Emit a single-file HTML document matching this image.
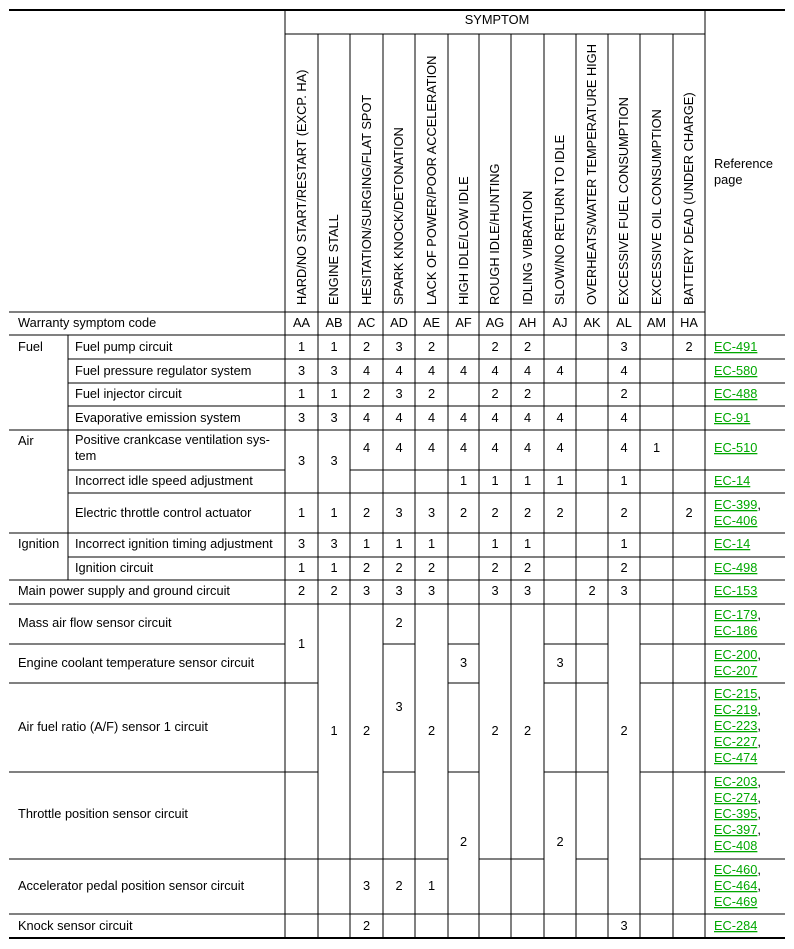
<!DOCTYPE html>
<html><head><meta charset="utf-8"><style>
html,body{margin:0;padding:0;background:#fff;}
svg{display:block;}
text{font-family:"Liberation Sans",Arial,sans-serif;font-size:12.8px;fill:#000;}
.c{text-anchor:middle;}
.l{fill:#00a800;text-decoration:underline;}
</style></head><body>
<svg width="794" height="949" viewBox="0 0 794 949" xmlns="http://www.w3.org/2000/svg">
<g stroke="#000" stroke-width="1" shape-rendering="crispEdges">
<line x1="9" y1="10" x2="785" y2="10" stroke-width="2"/>
<line x1="285" y1="34" x2="705" y2="34"/>
<line x1="9" y1="312" x2="705" y2="312"/>
<line x1="9" y1="335" x2="785" y2="335"/>
<line x1="68" y1="359" x2="785" y2="359"/>
<line x1="68" y1="383" x2="785" y2="383"/>
<line x1="68" y1="406" x2="785" y2="406"/>
<line x1="9" y1="430" x2="785" y2="430"/>
<line x1="68" y1="470" x2="285" y2="470"/>
<line x1="350" y1="470" x2="785" y2="470"/>
<line x1="68" y1="493" x2="785" y2="493"/>
<line x1="9" y1="533" x2="785" y2="533"/>
<line x1="68" y1="557" x2="785" y2="557"/>
<line x1="9" y1="580" x2="785" y2="580"/>
<line x1="9" y1="604" x2="785" y2="604"/>
<line x1="9" y1="644" x2="285" y2="644"/>
<line x1="383" y1="644" x2="415" y2="644"/>
<line x1="448" y1="644" x2="479" y2="644"/>
<line x1="544" y1="644" x2="608" y2="644"/>
<line x1="640" y1="644" x2="785" y2="644"/>
<line x1="9" y1="683" x2="318" y2="683"/>
<line x1="448" y1="683" x2="479" y2="683"/>
<line x1="544" y1="683" x2="608" y2="683"/>
<line x1="640" y1="683" x2="785" y2="683"/>
<line x1="9" y1="772" x2="318" y2="772"/>
<line x1="383" y1="772" x2="415" y2="772"/>
<line x1="448" y1="772" x2="479" y2="772"/>
<line x1="544" y1="772" x2="608" y2="772"/>
<line x1="640" y1="772" x2="785" y2="772"/>
<line x1="9" y1="859" x2="448" y2="859"/>
<line x1="479" y1="859" x2="544" y2="859"/>
<line x1="576" y1="859" x2="608" y2="859"/>
<line x1="640" y1="859" x2="785" y2="859"/>
<line x1="9" y1="914" x2="785" y2="914"/>
<line x1="9" y1="938" x2="785" y2="938" stroke-width="2"/>
<line x1="68" y1="335" x2="68" y2="580"/>
<line x1="285" y1="9" x2="285" y2="938"/>
<line x1="705" y1="9" x2="705" y2="938"/>
<line x1="318" y1="34" x2="318" y2="938"/>
<line x1="350" y1="34" x2="350" y2="938"/>
<line x1="383" y1="34" x2="383" y2="938"/>
<line x1="415" y1="34" x2="415" y2="938"/>
<line x1="448" y1="34" x2="448" y2="938"/>
<line x1="479" y1="34" x2="479" y2="938"/>
<line x1="511" y1="34" x2="511" y2="938"/>
<line x1="544" y1="34" x2="544" y2="938"/>
<line x1="576" y1="34" x2="576" y2="938"/>
<line x1="608" y1="34" x2="608" y2="938"/>
<line x1="640" y1="34" x2="640" y2="938"/>
<line x1="673" y1="34" x2="673" y2="938"/>
</g>
<text class="c" x="497" y="24">SYMPTOM</text>
<text x="714" y="168">Reference</text>
<text x="714" y="184">page</text>
<g>
<text transform="translate(306,305) rotate(-90)">HARD/NO START/RESTART (EXCP. HA)</text>
<text transform="translate(338,305) rotate(-90)">ENGINE STALL</text>
<text transform="translate(371,305) rotate(-90)">HESITATION/SURGING/FLAT SPOT</text>
<text transform="translate(403,305) rotate(-90)">SPARK KNOCK/DETONATION</text>
<text transform="translate(436,305) rotate(-90)">LACK OF POWER/POOR ACCELERATION</text>
<text transform="translate(468,305) rotate(-90)">HIGH IDLE/LOW IDLE</text>
<text transform="translate(499,305) rotate(-90)">ROUGH IDLE/HUNTING</text>
<text transform="translate(532,305) rotate(-90)">IDLING VIBRATION</text>
<text transform="translate(564,305) rotate(-90)">SLOW/NO RETURN TO IDLE</text>
<text transform="translate(596,305) rotate(-90)">OVERHEATS/WATER TEMPERATURE HIGH</text>
<text transform="translate(628,305) rotate(-90)">EXCESSIVE FUEL CONSUMPTION</text>
<text transform="translate(661,305) rotate(-90)">EXCESSIVE OIL CONSUMPTION</text>
<text transform="translate(693,305) rotate(-90)">BATTERY DEAD (UNDER CHARGE)</text>
</g>
<text x="18" y="327">Warranty symptom code</text>
<g class="c">
<text class="c" x="301.5" y="327">AA</text><text class="c" x="334" y="327">AB</text><text class="c" x="366.5" y="327">AC</text><text class="c" x="399" y="327">AD</text><text class="c" x="431.5" y="327">AE</text><text class="c" x="463.5" y="327">AF</text><text class="c" x="495" y="327">AG</text><text class="c" x="527.5" y="327">AH</text><text class="c" x="560" y="327">AJ</text><text class="c" x="592" y="327">AK</text><text class="c" x="624" y="327">AL</text><text class="c" x="656.5" y="327">AM</text><text class="c" x="689" y="327">HA</text>
</g>
<text x="18" y="351">Fuel</text>
<text x="18" y="445">Air</text>
<text x="18" y="548">Ignition</text>
<text x="75" y="351">Fuel pump circuit</text>
<text x="75" y="375">Fuel pressure regulator system</text>
<text x="75" y="398">Fuel injector circuit</text>
<text x="75" y="422">Evaporative emission system</text>
<text x="75" y="444">Positive crankcase ventilation sys-</text>
<text x="75" y="460">tem</text>
<text x="75" y="485">Incorrect idle speed adjustment</text>
<text x="75" y="517">Electric throttle control actuator</text>
<text x="75" y="548">Incorrect ignition timing adjustment</text>
<text x="75" y="572">Ignition circuit</text>
<text x="18" y="595">Main power supply and ground circuit</text>
<text x="18" y="627">Mass air flow sensor circuit</text>
<text x="18" y="667">Engine coolant temperature sensor circuit</text>
<text x="18" y="731">Air fuel ratio (A/F) sensor 1 circuit</text>
<text x="18" y="818">Throttle position sensor circuit</text>
<text x="18" y="890">Accelerator pedal position sensor circuit</text>
<text x="18" y="930">Knock sensor circuit</text>
<text class="c" x="301.5" y="351">1</text><text class="c" x="334" y="351">1</text><text class="c" x="366.5" y="351">2</text><text class="c" x="399" y="351">3</text><text class="c" x="431.5" y="351">2</text><text class="c" x="495" y="351">2</text><text class="c" x="527.5" y="351">2</text><text class="c" x="624" y="351">3</text><text class="c" x="689" y="351">2</text>
<text class="c" x="301.5" y="375">3</text><text class="c" x="334" y="375">3</text><text class="c" x="366.5" y="375">4</text><text class="c" x="399" y="375">4</text><text class="c" x="431.5" y="375">4</text><text class="c" x="463.5" y="375">4</text><text class="c" x="495" y="375">4</text><text class="c" x="527.5" y="375">4</text><text class="c" x="560" y="375">4</text><text class="c" x="624" y="375">4</text>
<text class="c" x="301.5" y="398">1</text><text class="c" x="334" y="398">1</text><text class="c" x="366.5" y="398">2</text><text class="c" x="399" y="398">3</text><text class="c" x="431.5" y="398">2</text><text class="c" x="495" y="398">2</text><text class="c" x="527.5" y="398">2</text><text class="c" x="624" y="398">2</text>
<text class="c" x="301.5" y="422">3</text><text class="c" x="334" y="422">3</text><text class="c" x="366.5" y="422">4</text><text class="c" x="399" y="422">4</text><text class="c" x="431.5" y="422">4</text><text class="c" x="463.5" y="422">4</text><text class="c" x="495" y="422">4</text><text class="c" x="527.5" y="422">4</text><text class="c" x="560" y="422">4</text><text class="c" x="624" y="422">4</text>
<text class="c" x="301.5" y="465">3</text><text class="c" x="334" y="465">3</text>
<text class="c" x="366.5" y="452">4</text><text class="c" x="399" y="452">4</text><text class="c" x="431.5" y="452">4</text><text class="c" x="463.5" y="452">4</text><text class="c" x="495" y="452">4</text><text class="c" x="527.5" y="452">4</text><text class="c" x="560" y="452">4</text><text class="c" x="624" y="452">4</text><text class="c" x="656.5" y="452">1</text>
<text class="c" x="463.5" y="485">1</text><text class="c" x="495" y="485">1</text><text class="c" x="527.5" y="485">1</text><text class="c" x="560" y="485">1</text><text class="c" x="624" y="485">1</text>
<text class="c" x="301.5" y="517">1</text><text class="c" x="334" y="517">1</text><text class="c" x="366.5" y="517">2</text><text class="c" x="399" y="517">3</text><text class="c" x="431.5" y="517">3</text><text class="c" x="463.5" y="517">2</text><text class="c" x="495" y="517">2</text><text class="c" x="527.5" y="517">2</text><text class="c" x="560" y="517">2</text><text class="c" x="624" y="517">2</text><text class="c" x="689" y="517">2</text>
<text class="c" x="301.5" y="548">3</text><text class="c" x="334" y="548">3</text><text class="c" x="366.5" y="548">1</text><text class="c" x="399" y="548">1</text><text class="c" x="431.5" y="548">1</text><text class="c" x="495" y="548">1</text><text class="c" x="527.5" y="548">1</text><text class="c" x="624" y="548">1</text>
<text class="c" x="301.5" y="572">1</text><text class="c" x="334" y="572">1</text><text class="c" x="366.5" y="572">2</text><text class="c" x="399" y="572">2</text><text class="c" x="431.5" y="572">2</text><text class="c" x="495" y="572">2</text><text class="c" x="527.5" y="572">2</text><text class="c" x="624" y="572">2</text>
<text class="c" x="301.5" y="595">2</text><text class="c" x="334" y="595">2</text><text class="c" x="366.5" y="595">3</text><text class="c" x="399" y="595">3</text><text class="c" x="431.5" y="595">3</text><text class="c" x="495" y="595">3</text><text class="c" x="527.5" y="595">3</text><text class="c" x="592" y="595">2</text><text class="c" x="624" y="595">3</text>
<text class="c" x="301.5" y="648">1</text>
<text class="c" x="334" y="735">1</text>
<text class="c" x="366.5" y="735">2</text>
<text class="c" x="399" y="627">2</text>
<text class="c" x="399" y="711">3</text>
<text class="c" x="431.5" y="735">2</text>
<text class="c" x="463.5" y="667">3</text>
<text class="c" x="463.5" y="846">2</text>
<text class="c" x="495" y="735">2</text>
<text class="c" x="527.5" y="735">2</text>
<text class="c" x="560" y="667">3</text>
<text class="c" x="560" y="846">2</text>
<text class="c" x="624" y="735">2</text>
<text class="c" x="366.5" y="890">3</text><text class="c" x="399" y="890">2</text><text class="c" x="431.5" y="890">1</text>
<text class="c" x="366.5" y="930">2</text><text class="c" x="624" y="930">3</text>
<text class="l" x="714" y="351">EC-491</text>
<text class="l" x="714" y="375">EC-580</text>
<text class="l" x="714" y="398">EC-488</text>
<text class="l" x="714" y="422">EC-91</text>
<text class="l" x="714" y="452">EC-510</text>
<text class="l" x="714" y="485">EC-14</text>
<text x="714" y="509"><tspan class="l">EC-399</tspan>,</text>
<text class="l" x="714" y="525">EC-406</text>
<text class="l" x="714" y="548">EC-14</text>
<text class="l" x="714" y="572">EC-498</text>
<text class="l" x="714" y="595">EC-153</text>
<text x="714" y="619"><tspan class="l">EC-179</tspan>,</text>
<text class="l" x="714" y="635">EC-186</text>
<text x="714" y="659"><tspan class="l">EC-200</tspan>,</text>
<text class="l" x="714" y="675">EC-207</text>
<text x="714" y="698"><tspan class="l">EC-215</tspan>,</text>
<text x="714" y="714"><tspan class="l">EC-219</tspan>,</text>
<text x="714" y="730"><tspan class="l">EC-223</tspan>,</text>
<text x="714" y="746"><tspan class="l">EC-227</tspan>,</text>
<text class="l" x="714" y="762">EC-474</text>
<text x="714" y="786"><tspan class="l">EC-203</tspan>,</text>
<text x="714" y="802"><tspan class="l">EC-274</tspan>,</text>
<text x="714" y="818"><tspan class="l">EC-395</tspan>,</text>
<text x="714" y="834"><tspan class="l">EC-397</tspan>,</text>
<text class="l" x="714" y="850">EC-408</text>
<text x="714" y="874"><tspan class="l">EC-460</tspan>,</text>
<text x="714" y="890"><tspan class="l">EC-464</tspan>,</text>
<text class="l" x="714" y="906">EC-469</text>
<text class="l" x="714" y="930">EC-284</text>
</svg>
</body></html>
